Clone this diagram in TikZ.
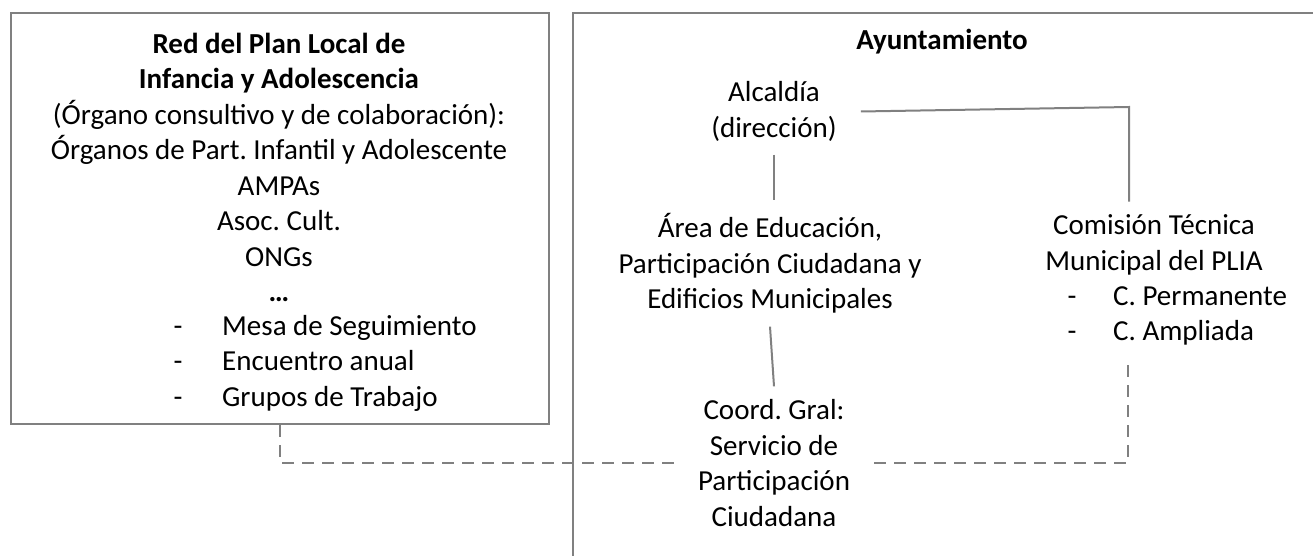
\documentclass[tikz,border=0pt]{standalone}
\usepackage{fontspec}
\setmainfont{Carlito}
\usetikzlibrary{positioning}
\definecolor{linegray}{RGB}{128,128,128}
\frenchspacing

\begin{document}
\begin{tikzpicture}[x=1pt,y=-1pt]

\tikzstyle{marco}=[draw=linegray,line width=2pt,inner sep=0pt]
\tikzstyle{texto}=[align=center,inner xsep=24pt,inner ysep=13pt,font=\fontsize{29}{35.5}\selectfont]
\tikzstyle{lista}=[align=left,anchor=west,inner sep=0pt,font=\fontsize{29}{35.5}\selectfont]
\tikzstyle{enlace}=[draw=linegray,line width=2pt]
\tikzstyle{discontinuo}=[enlace,dash pattern=on 12pt off 8pt]

\useasboundingbox (0,0) rectangle (1313,556);
\clip (0,0) rectangle (1313,556);

\node[marco,minimum width=538pt,minimum height=411pt,anchor=north west] (red) at (10,12) {};
\node[marco,minimum width=800pt,minimum height=600pt,anchor=north west] (ayto) at (572,12) {};

\node[texto] (plan) at (279,167.5) {\textbf{Red del Plan Local de}\\ \textbf{Infancia y Adolescencia}\\ (Órgano consultivo y de colaboración):\\ Órganos de Part. Infantil y Adolescente\\ AMPAs\\ Asoc. Cult.\\ ONGs\\ \textbf{…}};
\node[lista] (grupos) at (173.5,363) {\makebox[48.5pt][l]{-}Mesa de Seguimiento\\ \makebox[48.5pt][l]{-}Encuentro anual\\ \makebox[48.5pt][l]{-}Grupos de Trabajo};

\node[font=\bfseries\fontsize{29}{35.5}\selectfont] (ayt) at (942,41.5) {Ayuntamiento};
\node[texto] (alc) at (774,111.5) {Alcaldía\\ (dirección)};
\node[texto] (area) at (770,263.5) {Área de Educación,\\ Participación Ciudadana y\\ Edificios Municipales};
\node[texto] (com) at (1154,245) {Comisión Técnica\\ Municipal del PLIA};
\node[lista] (comlista) at (1067.5,316) {\makebox[45.5pt][l]{-}C. Permanente\\ \makebox[45.5pt][l]{-}C. Ampliada};
\node[texto] (coord) at (774,463) {Coord. Gral:\\ Servicio de\\ Participación\\ Ciudadana};

\coordinate (codo) at (1129,107);
\draw[enlace] (alc.east) -- (codo) -- (codo |- com.north);
\draw[enlace] (alc.south) -- (alc.south |- area.north);
\draw[enlace] (area.south) -- (coord.north);

\draw[discontinuo] (red.south) |- (coord.west);
\coordinate (esq) at (1128,360);
\draw[discontinuo] (coord.east) -| (esq);

\end{tikzpicture}
\end{document}
